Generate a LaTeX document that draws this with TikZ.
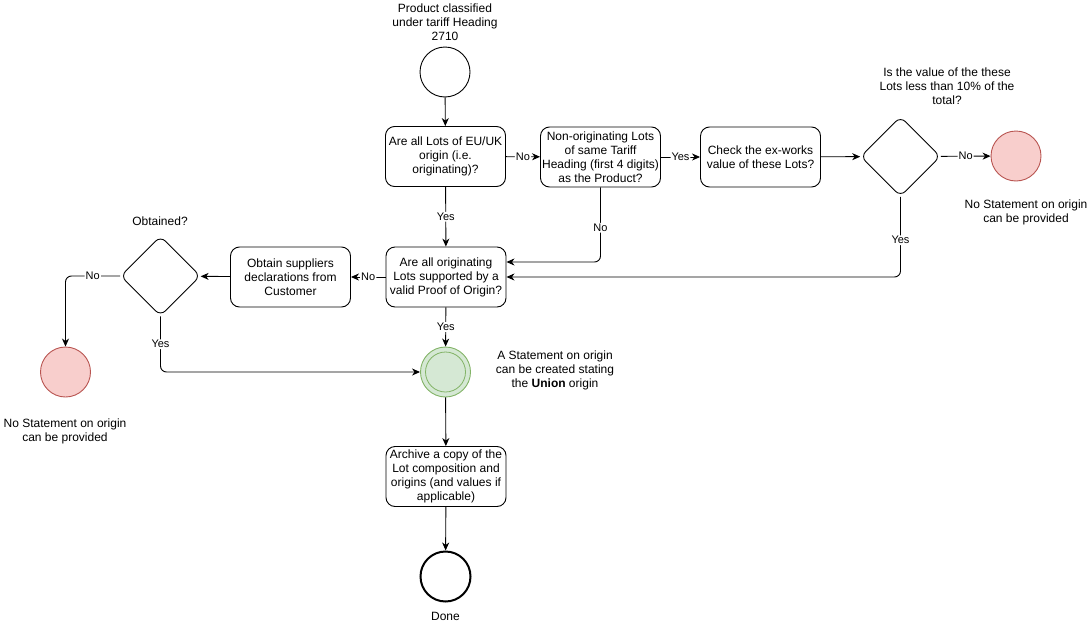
\documentclass[tikz,border=0pt]{standalone}
\usepackage{fontspec}
\setmainfont{Liberation Sans}
\usetikzlibrary{shapes.geometric,arrows.meta,calc}
\definecolor{redfill}{HTML}{F8CECC}
\definecolor{redline}{HTML}{B85450}
\definecolor{greenfill}{HTML}{D5E8D4}
\definecolor{greenline}{HTML}{82B366}
\begin{document}
\begin{tikzpicture}[x=1pt,y=-1pt,
  every node/.style={font=\fontsize{12}{14}\selectfont, align=center},
  stepbox/.style={draw, line width=0.9pt, rounded corners=9pt, minimum width=120pt, minimum height=60pt, inner sep=1pt},
  decide/.style={draw, diamond, line width=0.9pt, rounded corners=7pt, minimum width=80pt, minimum height=80pt, inner sep=0pt, aspect=1},
  ev/.style={draw, circle, line width=0.9pt, minimum size=50pt, inner sep=0pt},
  redev/.style={ev, fill=redfill, draw=redline},
  conn/.style={line width=0.9pt, -{Stealth[length=8pt,width=7pt,inset=2.5pt]}, rounded corners=6pt},
  lbl/.style={fill=white, inner sep=1pt, font=\fontsize{11}{13}\selectfont},
  txt/.style={inner sep=0pt}]
\useasboundingbox (0,0) rectangle (1090,632);

\node[ev] (start) at (445,72) {};
\node[txt] (startlbl) at (445,22) {Product classified\\under tariff Heading\\2710};

\node[stepbox] (b1) at (445.5,156.5) {Are all Lots of EU/UK\\origin (i.e.\\originating)?};
\node[stepbox] (b2) at (600.5,157) {Non-originating Lots\\of same Tariff\\Heading (first 4 digits)\\as the Product?};
\node[stepbox] (b3) at (760.5,157) {Check the ex-works\\value of these Lots?};
\node[decide] (d1) at (900.5,156.5) {};
\node[txt] (d1lbl) at (947,86) {Is the value of the these\\Lots less than 10\% of the\\total?};
\node[redev] (r1) at (1016,156) {};
\node[txt] (r1lbl) at (1026,212) {No Statement on origin\\can be provided};

\node[stepbox] (b4) at (446,277) {Are all originating\\Lots supported by a\\valid Proof of Origin?};
\node[stepbox] (b5) at (290.5,277) {Obtain suppliers\\declarations from\\Customer};
\node[decide] (d2) at (160.5,276) {};
\node[txt] (d2lbl) at (160,221) {Obtained?};
\node[redev] (r2) at (65.5,372) {};
\node[txt] (r2lbl) at (65,431.5) {No Statement on origin\\can be provided};

\node[ev, fill=greenfill, draw=greenline] (g) at (445.5,372) {};
\node[circle, draw=greenline, line width=0.8pt, minimum size=40pt, inner sep=0pt] (gin) at (g) {};
\node[txt] (glbl) at (555,370) {A Statement on origin\\can be created stating\\the \textbf{Union} origin};

\node[stepbox] (b6) at (446,476.5) {Archive a copy of the\\Lot composition and\\origins (and values if\\applicable)};
\node[ev, line width=2pt] (done) at (445.5,576.5) {};
\node[txt] (donelbl) at (445.5,616) {Done};

\draw[conn] (start) -- (b1);
\draw[conn] (b1) -- node[lbl]{No} (b2);
\draw[conn] (b2) -- node[lbl]{Yes} (b3);
\draw[conn] (b3) -- (d1);
\draw[conn] (d1) -- node[lbl]{No} (r1);
\draw[conn] (b1) -- node[lbl]{Yes} (b4);
\draw[conn] (b2.south) |- node[lbl, pos=0.27]{No} ([yshift=15pt]b4.east);
\draw[conn] (d1.south) |- node[lbl, pos=0.27]{Yes} (b4.east);
\draw[conn] (b4) -- node[lbl]{No} (b5);
\draw[conn] (b5) -- (d2);
\draw[conn] (d2.west) -| node[lbl, pos=0.25]{No} (r2.north);
\draw[conn] (d2.south) |- node[lbl, pos=0.25]{Yes} (g.west);
\draw[conn] (b4) -- node[lbl]{Yes} (g);
\draw[conn] (g) -- (b6);
\draw[conn] (b6) -- (done);
\end{tikzpicture}
\end{document}
